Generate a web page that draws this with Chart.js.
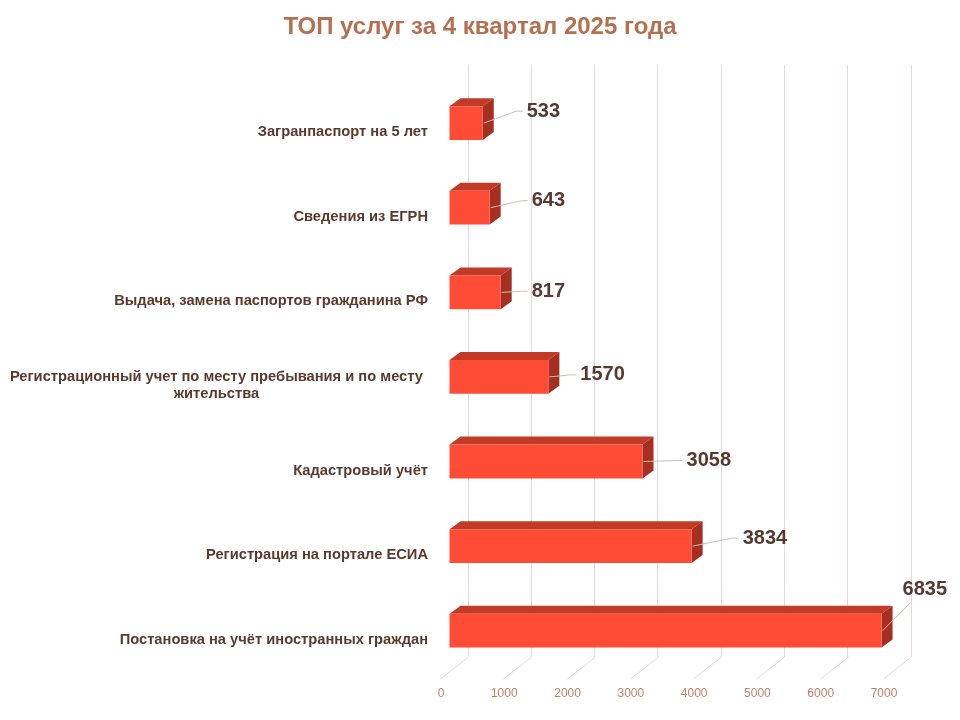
<!DOCTYPE html>
<html>
<head>
<meta charset="utf-8">
<script src="https://cdn.jsdelivr.net/npm/chart.js@4.4.1/dist/chart.umd.min.js"></script>
<style>
  html, body { margin: 0; padding: 0; background: #ffffff; }
  #wrap { width: 960px; height: 720px; }
</style>
</head>
<body>
<div id="wrap"><canvas id="chartTop"></canvas></div>
<script>
// данные
const categories = [
    'Загранпаспорт на 5 лет',
    'Сведения из ЕГРН',
    'Выдача, замена паспортов гражданина РФ',
    ['Регистрационный учет по месту пребывания и по месту', 'жительства'],
    'Кадастровый учёт',
    'Регистрация на портале ЕСИА',
    'Постановка на учёт иностранных граждан'
];
const values = [533, 643, 817, 1570, 3058, 3834, 6835];
const tickValues = [0, 1000, 2000, 3000, 4000, 5000, 6000, 7000];

// сдвиг подписей значений (как расставлено вручную в оригинале)
const labelShift = [[44, -12], [42, -7], [31, -1], [32, -2], [44, -1], [51, -8], [21, -41]];

// параметры "3D"
const FRONT_X = -19, FRONT_Y = 16;   // передняя грань относительно задней стенки
const DEPTH_X = 11, DEPTH_Y = -8;    // глубина бруска
const FLOOR_X = -28, FLOOR_Y = 22;   // пол
const gridColor = '#e3d9d6';
const fontFamily = '"Liberation Sans", Arial, sans-serif';

const bars3d = {
    id: 'bars3d',
    beforeDatasetsDraw(chart) {
        const ctx = chart.ctx;
        const area = chart.chartArea;
        const xs = chart.scales.x;

        // линии пола
        ctx.save();
        ctx.strokeStyle = gridColor;
        ctx.lineWidth = 1;
        tickValues.forEach(v => {
            const px = Math.round(xs.getPixelForValue(v)) + 0.5;
            ctx.beginPath();
            ctx.moveTo(px, area.bottom);
            ctx.lineTo(px + FLOOR_X, area.bottom + FLOOR_Y);
            ctx.stroke();
        });
        ctx.restore();

        // верхняя и боковая грани
        const meta = chart.getDatasetMeta(0);
        ctx.save();
        meta.data.forEach(bar => {
            const p = bar.getProps(['x', 'y', 'base', 'height'], true);
            const x0 = p.base + FRONT_X, x1 = p.x + FRONT_X;
            const y0 = p.y - p.height / 2 + FRONT_Y, y1 = p.y + p.height / 2 + FRONT_Y;

            ctx.fillStyle = '#c23a28';
            ctx.beginPath();
            ctx.moveTo(x0, y0);
            ctx.lineTo(x0 + DEPTH_X, y0 + DEPTH_Y);
            ctx.lineTo(x1 + DEPTH_X, y0 + DEPTH_Y);
            ctx.lineTo(x1, y0);
            ctx.closePath();
            ctx.fill();

            ctx.fillStyle = '#a52f20';
            ctx.beginPath();
            ctx.moveTo(x1, y0);
            ctx.lineTo(x1 + DEPTH_X, y0 + DEPTH_Y);
            ctx.lineTo(x1 + DEPTH_X, y1 + DEPTH_Y);
            ctx.lineTo(x1, y1);
            ctx.closePath();
            ctx.fill();
        });
        ctx.restore();

        // передняя грань рисуется самим Chart.js, со сдвигом
        ctx.save();
        ctx.translate(FRONT_X, FRONT_Y);
    },
    afterDatasetsDraw(chart) {
        const ctx = chart.ctx;
        ctx.restore();

        const meta = chart.getDatasetMeta(0);
        ctx.save();
        ctx.font = 'bold 20px ' + fontFamily;
        ctx.textBaseline = 'middle';
        ctx.textAlign = 'left';
        meta.data.forEach((bar, i) => {
            const p = bar.getProps(['x', 'y'], true);
            const fx = p.x + FRONT_X;
            const fy = p.y + FRONT_Y;
            const tx = fx + labelShift[i][0];
            const ty = fy + labelShift[i][1];

            // выноска
            ctx.strokeStyle = '#cdbcb4';
            ctx.lineWidth = 1;
            ctx.beginPath();
            ctx.moveTo(fx + 1, fy);
            if (labelShift[i][1] < -20) {
                ctx.lineTo(tx + 8, ty + 13);
            } else {
                ctx.lineTo(tx - 10, ty);
                ctx.lineTo(tx - 4, ty);
            }
            ctx.stroke();

            ctx.fillStyle = '#563a30';
            ctx.fillText(String(values[i]), tx, ty);
        });
        ctx.restore();
    },
    afterDraw(chart) {
        // подписи категорий
        const ctx = chart.ctx;
        const ys = chart.scales.y;
        const right = 428;
        ctx.save();
        ctx.font = 'bold 14.7px ' + fontFamily;
        ctx.fillStyle = '#5a3a2d';
        ctx.textBaseline = 'middle';
        categories.forEach((lab, i) => {
            const cy = ys.getPixelForValue(i) + FRONT_Y + 9;
            if (Array.isArray(lab)) {
                const w = Math.max(...lab.map(s => ctx.measureText(s).width));
                const cx = right - 5 - w / 2;
                ctx.textAlign = 'center';
                lab.forEach((s, k) => {
                    ctx.fillText(s, cx, cy + (k - (lab.length - 1) / 2) * 17);
                });
            } else {
                ctx.textAlign = 'right';
                ctx.fillText(lab, right, cy);
            }
        });
        ctx.restore();
    }
};

const ctxTop = document.getElementById('chartTop').getContext('2d');
const chartTop = new Chart(ctxTop, {
    type: 'bar',
    data: {
        labels: categories,
        datasets: [{
            label: 'Количество',
            data: values,
            backgroundColor: '#ff4c36',
            borderWidth: 0,
            barPercentage: 0.4,
            categoryPercentage: 1,
            clip: false
        }]
    },
    options: {
        indexAxis: 'y',
        responsive: true,
        maintainAspectRatio: false,
        animation: false,
        layout: { padding: 0 },
        plugins: {
            legend: { display: false },
            tooltip: { enabled: false },
            title: {
                display: true,
                text: 'ТОП услуг за 4 квартал 2025 года',
                color: '#b5704f',
                font: { family: fontFamily, size: 24, weight: 'bold' },
                padding: { top: 13, bottom: 23 }
            }
        },
        scales: {
            x: {
                min: 0,
                max: 7000,
                afterBuildTicks(scale) {
                    scale.ticks = tickValues.map(v => ({ value: v }));
                },
                afterFit(scale) { scale.height = 63; },
                grid: { color: gridColor, drawTicks: false },
                border: { display: false },
                ticks: {
                    color: '#c08068',
                    font: { family: fontFamily, size: 12 },
                    padding: 29,
                    labelOffset: -27,
                    maxRotation: 0,
                    callback: v => String(v)
                }
            },
            y: {
                afterFit(scale) { scale.width = 468; },
                grid: { display: false },
                border: { display: false },
                ticks: { display: false }
            },
            // пустое место справа (чтобы заголовок остался по центру страницы)
            yRight: {
                type: 'linear',
                position: 'right',
                afterFit(scale) { scale.width = 49; },
                grid: { display: false },
                border: { display: false },
                ticks: { display: false }
            }
        }
    },
    plugins: [bars3d]
});
</script>
</body>
</html>
